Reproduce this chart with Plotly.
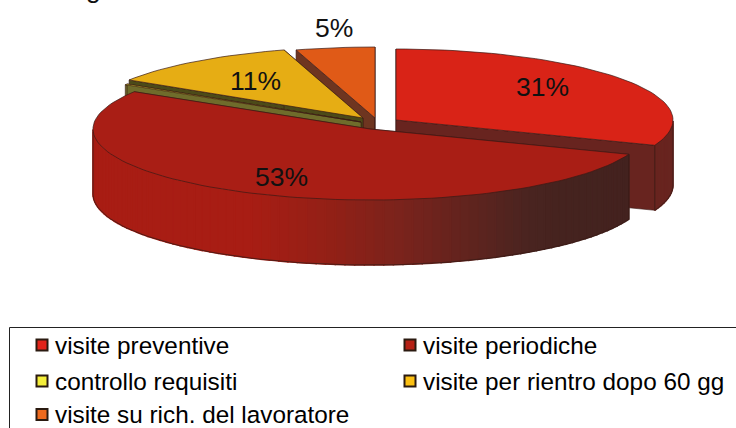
import math
import plotly.graph_objects as go

# ---- data ----
categories = ["visite preventive", "visite periodiche", "controllo requisiti",
              "visite per rientro dopo 60 gg", "visite su rich. del lavoratore"]
values = [30.8, 53.0, 0.2, 11.4, 4.6]

# ---- styles ----
top_colors = ["#d92317", "#a91e15", "#e8e32c", "#e6ad14", "#e05a17"]
wall_colors = ["#68241f", "#a81d14", "#6f6c2b", "#4c4a18", "#6e3520"]
legend_colors = ["#e3241a", "#b52014", "#f5ef3a", "#fcc012", "#ee6a1e"]
edge = "#3a1a15"
font = "Liberation Sans, Arial, sans-serif"

# ---- 3-D projection of the pie (pixel space) ----
RX, RY, DEPTH = 277, 71, 65
apex = [(396, 120), (370, 129), (361, 122), (363, 118), (375, 118)]
draw_order = [4, 3, 2, 0, 1]
label_f = [0.64, 0.72, None, 0.65, 1.28]
label_shift = [(0, -7), (0, 2), None, (1, 0), (10, 0)]
grad_x = [93, 250, 330, 400, 527, 560, 640]
grad_c = [(168, 29, 20), (168, 29, 20), (146, 32, 22), (122, 35, 28), (74, 36, 32), (69, 35, 31), (67, 34, 31)]


def pt(c, deg, drop=0):
    a = math.radians(deg)
    return c[0] + RX * math.sin(a), c[1] - RY * math.cos(a) + drop


def grad(x):
    for i in range(len(grad_x) - 1):
        if x <= grad_x[i + 1]:
            t = max(0, (x - grad_x[i]) / (grad_x[i + 1] - grad_x[i]))
            r = [round(grad_c[i][k] + t * (grad_c[i + 1][k] - grad_c[i][k])) for k in range(3)]
            return f"rgb({r[0]},{r[1]},{r[2]})"
    return "rgb(67,34,31)"


fig = go.Figure()


def poly(points, fill, line=None, width=1.5):
    xs = [p[0] for p in points] + [points[0][0]]
    ys = [p[1] for p in points] + [points[0][1]]
    fig.add_trace(go.Scatter(x=xs, y=ys, mode="lines", fill="toself", fillcolor=fill,
                             line=dict(color=line or fill, width=width),
                             hoverinfo="skip", showlegend=False))


def stroke(points):
    fig.add_trace(go.Scatter(x=[p[0] for p in points], y=[p[1] for p in points], mode="lines",
                             line=dict(color=edge, width=0.8), hoverinfo="skip", showlegend=False))


# angular spans from the values
spans, acc = [], 0
total = sum(values)
for v in values:
    a0 = acc / total * 360
    acc += v
    spans.append((a0, acc / total * 360))

for i in draw_order:
    c, (a0, a1) = apex[i], spans[i]
    steps = max(2, int((a1 - a0) / 2))
    arc = [a0 + (a1 - a0) * k / steps for k in range(steps + 1)]
    # the two cut faces
    for a in (a0, a1):
        p = pt(c, a)
        poly([c, p, (p[0], p[1] + DEPTH), (c[0], c[1] + DEPTH)], wall_colors[i], edge, 0.6)
    # the outer wall, only where it faces the viewer
    front = [a for a in arc if 90 <= a <= 270]
    if len(front) > 1:
        for a, b in zip(front, front[1:]):
            p, q = pt(c, a), pt(c, b)
            colour = grad((p[0] + q[0]) / 2) if i == 1 else wall_colors[i]
            poly([p, q, (q[0], q[1] + DEPTH), (p[0], p[1] + DEPTH)], colour)
        stroke([pt(c, a, DEPTH) for a in front])
        for a in (front[0], front[-1]):
            p = pt(c, a)
            stroke([p, (p[0], p[1] + DEPTH)])
    # the top face
    poly([c] + [pt(c, a) for a in arc], top_colors[i], edge, 0.7)

# legend frame, swatches and text
fig.add_shape(type="rect", x0=9.5, y0=327.5, x1=760, y1=450, line=dict(color="#222222", width=1), layer="above")
legend_cells = [(42, 345), (410, 345), (42, 381), (410, 381), (42, 414.5)]
for name, colour, (lx, ly) in zip(categories, legend_colors, legend_cells):
    fig.add_trace(go.Scatter(x=[lx], y=[ly], mode="markers", name=name,
                             marker=dict(symbol="square", size=11, color=colour,
                                         line=dict(color="#2a1a10", width=2)),
                             hoverinfo="name", showlegend=False))
    fig.add_annotation(x=lx + 11, y=ly, text=name, showarrow=False, xanchor="left", yanchor="middle",
                       font=dict(family=font, size=24.3, color="#000000"))

# percent labels
for i, v in enumerate(values):
    if label_f[i] is None:
        continue
    a = (spans[i][0] + spans[i][1]) / 2
    p = pt(apex[i], a)
    x = apex[i][0] + label_f[i] * (p[0] - apex[i][0]) + label_shift[i][0]
    y = apex[i][1] + label_f[i] * (p[1] - apex[i][1]) + label_shift[i][1]
    fig.add_annotation(x=x, y=y, text=f"{round(v)}%", showarrow=False,
                       font=dict(family=font, size=26.5, color="#111111"))

# the clipped descender of the cropped title
fig.add_annotation(x=93, y=0, yshift=11, text="g", showarrow=False,
                   font=dict(family=font, size=26.5, color="#111111"))

fig.update_layout(width=736, height=428, margin=dict(l=0, r=0, t=0, b=0),
                  paper_bgcolor="white", plot_bgcolor="white", showlegend=False,
                  xaxis=dict(range=[0, 736], visible=False, fixedrange=True),
                  yaxis=dict(range=[428, 0], visible=False, fixedrange=True))
fig.write_html("out.html", config={"displayModeBar": False},
               post_script="document.body.style.margin='0';document.body.style.overflow='hidden';")
